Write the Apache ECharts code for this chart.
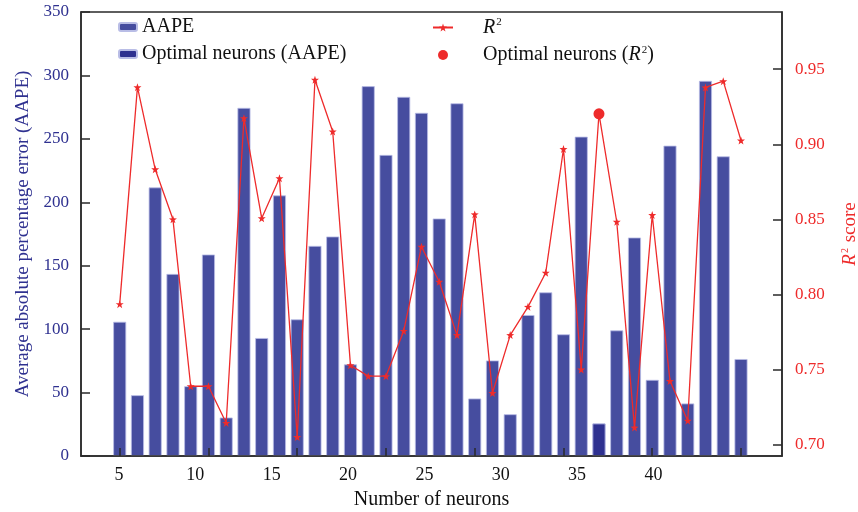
<!DOCTYPE html>
<html>
<head>
<meta charset="utf-8">
<script src="https://cdn.jsdelivr.net/npm/echarts@6/dist/echarts.min.js"></script>
<style>
  html, body { margin: 0; padding: 0; background: #ffffff; }
  #chart { width: 858px; height: 512px; }
</style>
</head>
<body>
<div id="chart"></div>
<script>
// Hidden-layer sizes that were tried
const neurons = [5, 6, 7, 8, 9, 10, 11, 12, 13, 14, 15, 16, 17, 18, 19, 20, 21, 22,
                 23, 24, 25, 26, 27, 28, 29, 30, 31, 32, 33, 34, 35, 36, 37, 38, 39, 40];
// Average absolute percentage error per size
const aape = [105.8, 47.9, 211.7, 143.5, 55.0, 158.8, 30.3, 274.4, 93.0, 205.4, 107.7, 165.6,
              173.0, 72.2, 291.5, 237.3, 283.1, 270.5, 187.2, 278.0, 45.3, 75.3, 32.9, 111.1,
              129.0, 95.9, 251.7, 25.6, 99.0, 172.2, 60.0, 244.6, 41.4, 295.7, 236.2, 76.4];
// R^2 score per size
const r2 = [0.7937, 0.9380, 0.8834, 0.8501, 0.7391, 0.7391, 0.7147, 0.9174, 0.8508, 0.8774,
            0.7053, 0.9429, 0.9085, 0.7531, 0.7458, 0.7458, 0.7759, 0.8319, 0.8086, 0.7731,
            0.8534, 0.7346, 0.7731, 0.7919, 0.8146, 0.8969, 0.7502, 0.9203, 0.8485, 0.7116,
            0.8530, 0.7426, 0.7162, 0.9378, 0.9420, 0.9025];
// Selected network size
const optimalNeuron = 32;

const xTickValues = [5, 10, 15, 20, 25, 30, 35, 40];
const xTickLabels = [5, 10, 15, 20, 25, 30, 35, 40];
const r2TickValues = [0.70, 0.75, 0.80, 0.85, 0.90, 0.95];

const SERIF = "'Liberation Serif', 'Times New Roman', 'DejaVu Serif', serif";
const BAR = '#464d9f';
const BAR_EDGE = '#b9bde6';
const BAR_OPT = '#2e3190';
const RED = '#ee2b2b';
const NAVY = '#2f3190';
const FRAME = '#2a2a2a';

const optIdx = neurons.indexOf(optimalNeuron);
const aapePairs = neurons.map((n, i) => [n, aape[i]]);
const r2Pairs = neurons.map((n, i) => [n, r2[i]]);

const STAR = 'path://M0,-10L2.35,-3.24L9.51,-3.09L3.8,1.24L5.88,8.09L0,4L-5.88,8.09L-3.8,1.24L-9.51,-3.09L-2.35,-3.24Z';

const supRich = {
  sp: { width: 25 },
  i: { fontFamily: SERIF, fontStyle: 'italic', fontSize: 20, color: '#111' },
  s: { fontFamily: SERIF, fontSize: 11, color: '#111', padding: [0, 0, 10, 1] }
};

const gridBox = { left: 81, right: 76, top: 12, bottom: 56, outerBoundsMode: 'none', containLabel: false };

const chart = echarts.init(document.getElementById('chart'), null, { renderer: 'canvas' });

chart.setOption({
  animation: false,
  backgroundColor: '#ffffff',
  textStyle: { fontFamily: SERIF },
  grid: [
    Object.assign({ show: true, borderColor: FRAME, borderWidth: 1.5, backgroundColor: 'transparent' }, gridBox),
    Object.assign({ show: false }, gridBox)
  ],
  legend: [
    {
      orient: 'vertical', left: 118, top: 17, padding: 0,
      itemWidth: 18, itemHeight: 8, itemGap: 7,
      data: ['AAPE', 'Optimal neurons (AAPE)'],
      textStyle: { fontFamily: SERIF, fontSize: 20, color: '#111' }
    },
    {
      orient: 'vertical', left: 432, top: 17, padding: 0,
      itemWidth: 20, itemHeight: 10, itemGap: 7,
      data: ['R2', 'Optimal neurons (R2)'],
      formatter: name => name === 'R2' ? '{sp|}{i|R}{s|2}' : '{sp|}Optimal neurons ({i|R}{s|2})',
      textStyle: { fontFamily: SERIF, fontSize: 20, color: '#111', rich: supRich }
    }
  ],
  xAxis: [
    {
      type: 'value', gridIndex: 0, min: 2.82, max: 42.31, z: 10,
      axisLine: { lineStyle: { color: FRAME, width: 1.5 } },
      axisTick: { inside: true, length: 8, customValues: xTickValues, lineStyle: { color: FRAME, width: 1.5 } },
      axisLabel: { show: false },
      splitLine: { show: false }
    },
    {
      type: 'value', gridIndex: 1, min: 2.51, max: 48.42,
      axisLine: { show: false },
      axisTick: { show: false },
      axisLabel: { customValues: xTickLabels, margin: 10, fontFamily: SERIF, fontSize: 18, color: '#111' },
      splitLine: { show: false },
      name: 'Number of neurons', nameLocation: 'middle', nameGap: 34,
      nameTextStyle: { fontFamily: SERIF, fontSize: 20, color: '#111' }
    }
  ],
  yAxis: [
    {
      type: 'value', gridIndex: 0, min: 0, max: 350, interval: 50, position: 'left', z: 10,
      axisLine: { show: true, lineStyle: { color: FRAME, width: 1.5 } },
      axisTick: { show: true, inside: true, length: 9, lineStyle: { color: FRAME, width: 1.5 } },
      axisLabel: { margin: 12, fontFamily: SERIF, fontSize: 17, color: NAVY },
      splitLine: { show: false },
      name: 'Average absolute percentage error (AAPE)', nameLocation: 'middle', nameGap: 48,
      nameTextStyle: { fontFamily: SERIF, fontSize: 19, color: NAVY }
    },
    {
      type: 'value', gridIndex: 0, min: 0.6927, max: 0.988, position: 'right', z: 10,
      axisLine: { show: true, lineStyle: { color: FRAME, width: 1.5 } },
      axisTick: { show: true, inside: true, length: 9, customValues: r2TickValues, lineStyle: { color: FRAME, width: 1.5 } },
      axisLabel: { customValues: r2TickValues, margin: 13, fontFamily: SERIF, fontSize: 17, color: RED,
                   formatter: v => v.toFixed(2) },
      splitLine: { show: false },
      name: '{i|R}{s|2} score', nameLocation: 'middle', nameGap: 58, nameRotate: 90,
      nameTextStyle: {
        fontFamily: SERIF, fontSize: 19, color: RED,
        rich: {
          i: { fontFamily: SERIF, fontStyle: 'italic', fontSize: 19, color: RED },
          s: { fontFamily: SERIF, fontSize: 10, color: RED, padding: [0, 1, 10, 1] }
        }
      }
    },
    { type: 'value', gridIndex: 1, show: false, min: 0, max: 1 }
  ],
  series: [
    {
      name: 'AAPE', type: 'bar', xAxisIndex: 0, yAxisIndex: 0,
      barWidth: 13, barGap: '-100%',
      itemStyle: { color: BAR, borderColor: BAR_EDGE, borderWidth: 0.8 },
      data: aapePairs, z: 2
    },
    {
      name: 'Optimal neurons (AAPE)', type: 'bar', xAxisIndex: 0, yAxisIndex: 0,
      barWidth: 13, barGap: '-100%',
      itemStyle: { color: BAR_OPT, borderColor: BAR_EDGE, borderWidth: 0.8 },
      data: [aapePairs[optIdx]], z: 3
    },
    {
      name: 'R2', type: 'line', xAxisIndex: 0, yAxisIndex: 1,
      symbol: STAR, symbolSize: 8, showAllSymbol: true,
      lineStyle: { color: RED, width: 1.3 },
      itemStyle: { color: RED },
      data: r2Pairs, z: 5
    },
    {
      name: 'Optimal neurons (R2)', type: 'scatter', xAxisIndex: 0, yAxisIndex: 1,
      symbol: 'circle', symbolSize: 11,
      itemStyle: { color: RED, opacity: 1 },
      data: [r2Pairs[optIdx]], z: 6
    }
  ]
});
</script>
</body>
</html>
